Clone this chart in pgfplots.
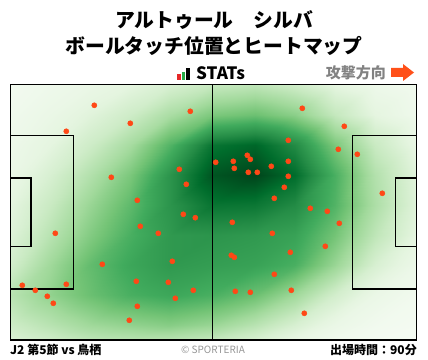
\documentclass[border=0pt]{standalone}
\usepackage{pgfplots}
\pgfplotsset{compat=1.18}
\usepackage{fontspec}
\setmainfont{Noto Sans CJK JP}
\definecolor{dotorange}{RGB}{255,72,22}
\definecolor{arrowc}{RGB}{255,80,25}
\definecolor{gtext}{RGB}{130,130,130}
\definecolor{ctext}{RGB}{150,150,150}
\definecolor{sred}{RGB}{230,40,40}
\definecolor{sgreen}{RGB}{40,170,70}
\pgfplotsset{colormap={greens}{rgb255(0cm)=(245,251,243); rgb255(12cm)=(229,245,224); rgb255(25cm)=(199,233,192); rgb255(38cm)=(161,217,155); rgb255(50cm)=(116,196,118); rgb255(62cm)=(65,171,93); rgb255(76cm)=(35,139,69); rgb255(88cm)=(0,109,44); rgb255(100cm)=(0,68,27)}}
\begin{document}
\begin{tikzpicture}
\useasboundingbox (0,0) rectangle (428pt,359pt);
% titles
\node[font=\fontsize{19.8}{22}\selectfont\bfseries] at (214pt,339pt) {アルトゥール　シルバ};
\node[font=\fontsize{19.8}{22}\selectfont\bfseries] at (214pt,313pt) {ボールタッチ位置とヒートマップ};
% STATs logo
\fill[sred] (177pt,279pt) rectangle (180.5pt,285pt);
\fill[sgreen] (181.5pt,279pt) rectangle (185pt,287pt);
\fill[black] (186pt,279pt) rectangle (190pt,291pt);
\node[font=\fontsize{17}{19}\selectfont\bfseries, anchor=base west, inner sep=0pt] at (196pt,279pt) {STATs};
% attack direction
\node[font=\fontsize{15}{17}\selectfont\bfseries, text=gtext, anchor=base east, inner sep=0pt] at (386pt,280pt) {攻撃方向};
\fill[arrowc] (391pt,282pt) -- (403pt,282pt) -- (403pt,278pt) -- (414pt,286.5pt) -- (403pt,295pt) -- (403pt,291pt) -- (391pt,291pt) -- cycle;
% footer
\node[font=\fontsize{12}{14}\selectfont\bfseries, anchor=base west, inner sep=0pt] at (10pt,5pt) {J2 第5節 vs 鳥栖};
\node[font=\fontsize{10}{12}\selectfont, text=ctext, anchor=base, inner sep=0pt] at (213pt,6pt) {© SPORTERIA};
\node[font=\fontsize{12}{14}\selectfont\bfseries, anchor=base east, inner sep=0pt] at (417pt,5pt) {出場時間：90分};
\begin{axis}[
  at={(10.3pt,19pt)}, anchor=south west,
  scale only axis, width=406pt, height=255.3pt,
  xmin=10.3, xmax=416.3, ymin=84.7, ymax=340, y dir=reverse,
  hide axis, clip=false,
  colormap name=greens, point meta min=0, point meta max=1,
]
\addplot[surf, shader=interp, mesh/cols=11, point meta=\thisrow{v}] table[x=x,y=y] {
x y v
10.3 84.7 0.02
50 84.7 0.05
90 84.7 0.08
130 84.7 0.12
170 84.7 0.18
212.5 84.7 0.25
255 84.7 0.28
295 84.7 0.22
335 84.7 0.12
375 84.7 0.06
416.3 84.7 0.03
10.3 115 0.04
50 115 0.08
90 115 0.14
130 115 0.22
170 115 0.35
212.5 115 0.48
255 115 0.52
295 115 0.44
335 115 0.26
375 115 0.12
416.3 115 0.05
10.3 145 0.06
50 145 0.12
90 145 0.22
130 145 0.36
170 145 0.58
212.5 145 0.85
255 145 0.90
295 145 0.76
335 145 0.48
375 145 0.24
416.3 145 0.10
10.3 175 0.08
50 175 0.18
90 175 0.32
130 175 0.48
170 175 0.72
212.5 175 0.95
255 175 1.00
295 175 0.88
335 175 0.60
375 175 0.32
416.3 175 0.14
10.3 205 0.12
50 205 0.24
90 205 0.40
130 205 0.55
170 205 0.72
212.5 205 0.85
255 205 0.84
295 205 0.76
335 205 0.58
375 205 0.34
416.3 205 0.15
10.3 235 0.15
50 235 0.30
90 235 0.46
130 235 0.60
170 235 0.70
212.5 235 0.72
255 235 0.70
295 235 0.66
335 235 0.50
375 235 0.28
416.3 235 0.12
10.3 265 0.20
50 265 0.38
90 265 0.54
130 265 0.64
170 265 0.70
212.5 265 0.68
255 265 0.66
295 265 0.60
335 265 0.40
375 265 0.18
416.3 265 0.07
10.3 295 0.30
50 295 0.42
90 295 0.52
130 295 0.60
170 295 0.64
212.5 295 0.60
255 295 0.52
295 295 0.38
335 295 0.20
375 295 0.08
416.3 295 0.03
10.3 325 0.22
50 325 0.30
90 325 0.38
130 325 0.42
170 325 0.45
212.5 325 0.40
255 325 0.30
295 325 0.18
335 325 0.08
375 325 0.03
416.3 325 0.01
10.3 340 0.16
50 340 0.22
90 340 0.28
130 340 0.30
170 340 0.30
212.5 340 0.26
255 340 0.18
295 340 0.10
335 340 0.04
375 340 0.01
416.3 340 0.00
};
% pitch markings
\addplot[black, line width=1.5pt, line join=miter] coordinates {(10.3,84.7)(416.3,84.7)(416.3,340)(10.3,340)(10.3,84.7)(416.3,84.7)};
\addplot[black, line width=1.8pt] coordinates {(212.5,84.7)(212.5,340)};
\addplot[black, line width=1.5pt, line join=miter] coordinates {(10.3,135.7)(73.7,135.7)(73.7,289)(10.3,289)};
\addplot[black, line width=1.5pt, line join=miter] coordinates {(10.3,178)(31,178)(31,246.7)(10.3,246.7)};
\addplot[black, line width=1.5pt, line join=miter] coordinates {(416.3,135.7)(352.7,135.7)(352.7,289)(416.3,289)};
\addplot[black, line width=1.5pt, line join=miter] coordinates {(416.3,178)(395.7,178)(395.7,246.7)(416.3,246.7)};
% touches
\addplot[only marks, mark=*, mark size=2.6pt, mark options={fill=dotorange, draw=dotorange}] coordinates {
(94.3,105.3)(190.3,111.3)(130.3,123.3)(66.3,131.3)(179.3,169.3)(186.3,184.3)
(111.3,177.3)(137.3,200.3)(183.3,214.3)(195.3,217.7)(302.3,108.3)(344.3,126.3)
(288.3,140.3)(338.3,149.3)(357.3,154.3)(215.7,162.3)(233.3,161.3)(247.3,155.3)
(250.3,159.3)(288.3,161.3)(234.3,168.3)(248.3,172.3)(257.3,172.3)(271.3,166.3)
(288.3,176.3)(284.3,187.3)(382.3,193.3)(274.3,198.3)(310.3,208.3)(327.3,211.3)
(339.3,223.3)(232.3,222.3)(272.3,233.3)(325.3,246.3)(290.3,252.3)(231.3,255.3)
(234.3,257.3)(274.3,274.3)(235.3,291.3)(250.3,292.3)(291.3,290.3)(304.3,313.3)
(140.3,226.3)(158.3,233.3)(55.3,233.3)(102.3,264.3)(172.3,261.3)(136.3,281.3)
(168.3,282.3)(193.3,290.3)(22.3,285.3)(66.3,284.3)(35.3,290.3)(47.3,296.3)
(53.3,303.3)(175.3,298.3)(137.3,306.3)(129.3,320.3)
};
\end{axis}
\end{tikzpicture}
\end{document}
